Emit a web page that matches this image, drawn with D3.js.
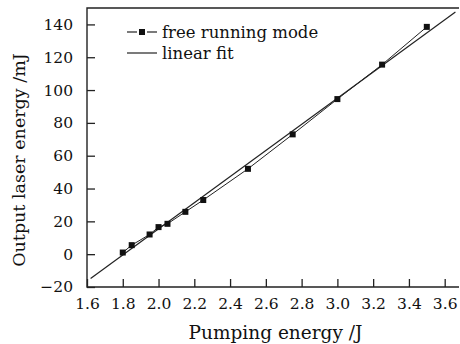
<!DOCTYPE html>
<html><head><meta charset="utf-8">
<script src="https://cdn.jsdelivr.net/npm/d3@7"></script>
<style>body{margin:0;background:#fff}svg{display:block}</style>
</head><body>
<svg id="c" width="460" height="344"></svg>
<script>
const pumpEnergy = [1.8, 1.85, 1.95, 2.0, 2.05, 2.15, 2.25, 2.5, 2.75, 3.0, 3.25, 3.5];
const laserEnergy = [1, 5.5, 12, 16.5, 18.5, 25.8, 33, 52, 73, 94.5, 115.5, 138.5];
const fitSlope = 79.6;
const fitIntercept = -143.8;
const fitRange = [1.62, 3.66];
const xTicks = [1.6, 1.8, 2.0, 2.2, 2.4, 2.6, 2.8, 3.0, 3.2, 3.4, 3.6];
const yTicks = [-20, 0, 20, 40, 60, 80, 100, 120, 140];
const legendLabels = ["free running mode", "linear fit"];

const svg = d3.select("#c");
const L = 87, R = 459, T = 8, B = 287;
const font = "DejaVu Serif";
const x = d3.scaleLinear().domain([1.6, 3.68]).range([L, R]);
const y = d3.scaleLinear().domain([-20, 150]).range([B, T]);
const ink = "#222";

// frame
svg.append("path").attr("d", `M${R},${T}H${L}V${B}H${R}`)
  .attr("fill", "none").attr("stroke", ink).attr("stroke-width", 1.4);

// axes
const xAxis = d3.axisBottom(x).tickValues(xTicks).tickFormat(d3.format(".1f")).tickSizeInner(-8).tickSizeOuter(0).tickPadding(11);
const gx = svg.append("g").attr("transform", `translate(0,${B})`).call(xAxis);
const yAxis = d3.axisLeft(y).tickValues(yTicks).tickFormat(d => d < 0 ? "\u2212" + Math.abs(d) : d).tickSizeInner(-8).tickSizeOuter(0).tickPadding(14);
const gy = svg.append("g").attr("transform", `translate(${L},0)`).call(yAxis);
[gx, gy].forEach(g => {
  g.select(".domain").remove();
  g.selectAll("line").attr("stroke", ink).attr("stroke-width", 1.3);
  g.selectAll("text").attr("font-family", font).attr("font-size", 15.5).attr("fill", "#111");
});

// fit line
svg.append("line")
  .attr("x1", x(fitRange[0])).attr("y1", y(fitSlope * fitRange[0] + fitIntercept))
  .attr("x2", x(fitRange[1])).attr("y2", y(fitSlope * fitRange[1] + fitIntercept))
  .attr("stroke", ink).attr("stroke-width", 1.2);

// data line
const pts = pumpEnergy.map((p, i) => [p, laserEnergy[i]]);
svg.append("path").datum(pts)
  .attr("d", d3.line().x(d => x(d[0])).y(d => y(d[1])))
  .attr("fill", "none").attr("stroke", ink).attr("stroke-width", 1);
svg.selectAll("rect.m").data(pts).join("rect").attr("class", "m")
  .attr("x", d => x(d[0]) - 3).attr("y", d => y(d[1]) - 3)
  .attr("width", 6).attr("height", 6).attr("fill", "#111");

// legend
const lg = svg.append("g");
const ly = [32, 53];
lg.append("line").attr("x1", 127).attr("x2", 137).attr("y1", ly[0]).attr("y2", ly[0]).attr("stroke", ink).attr("stroke-width", 1.2);
lg.append("line").attr("x1", 147).attr("x2", 157).attr("y1", ly[0]).attr("y2", ly[0]).attr("stroke", ink).attr("stroke-width", 1.2);
lg.append("rect").attr("x", 139).attr("y", ly[0] - 3).attr("width", 6).attr("height", 6).attr("fill", "#111");
lg.append("line").attr("x1", 127).attr("x2", 157).attr("y1", ly[1]).attr("y2", ly[1]).attr("stroke", ink).attr("stroke-width", 1.2);
lg.selectAll("text").data(legendLabels).join("text")
  .attr("x", 162).attr("y", (d, i) => ly[i]).attr("dy", "0.35em")
  .attr("font-family", font).attr("font-size", 16.5).attr("fill", "#111").text(d => d);

// axis titles
svg.append("text").attr("x", 275.5).attr("y", 339)
  .attr("text-anchor", "middle").attr("font-family", font).attr("font-size", 18.5).attr("fill", "#111")
  .text("Pumping energy /J");
svg.append("text").attr("transform", `translate(25,160) rotate(-90)`)
  .attr("text-anchor", "middle").attr("font-family", font).attr("font-size", 17.5).attr("fill", "#111")
  .text("Output laser energy /mJ");
</script>
</body></html>
